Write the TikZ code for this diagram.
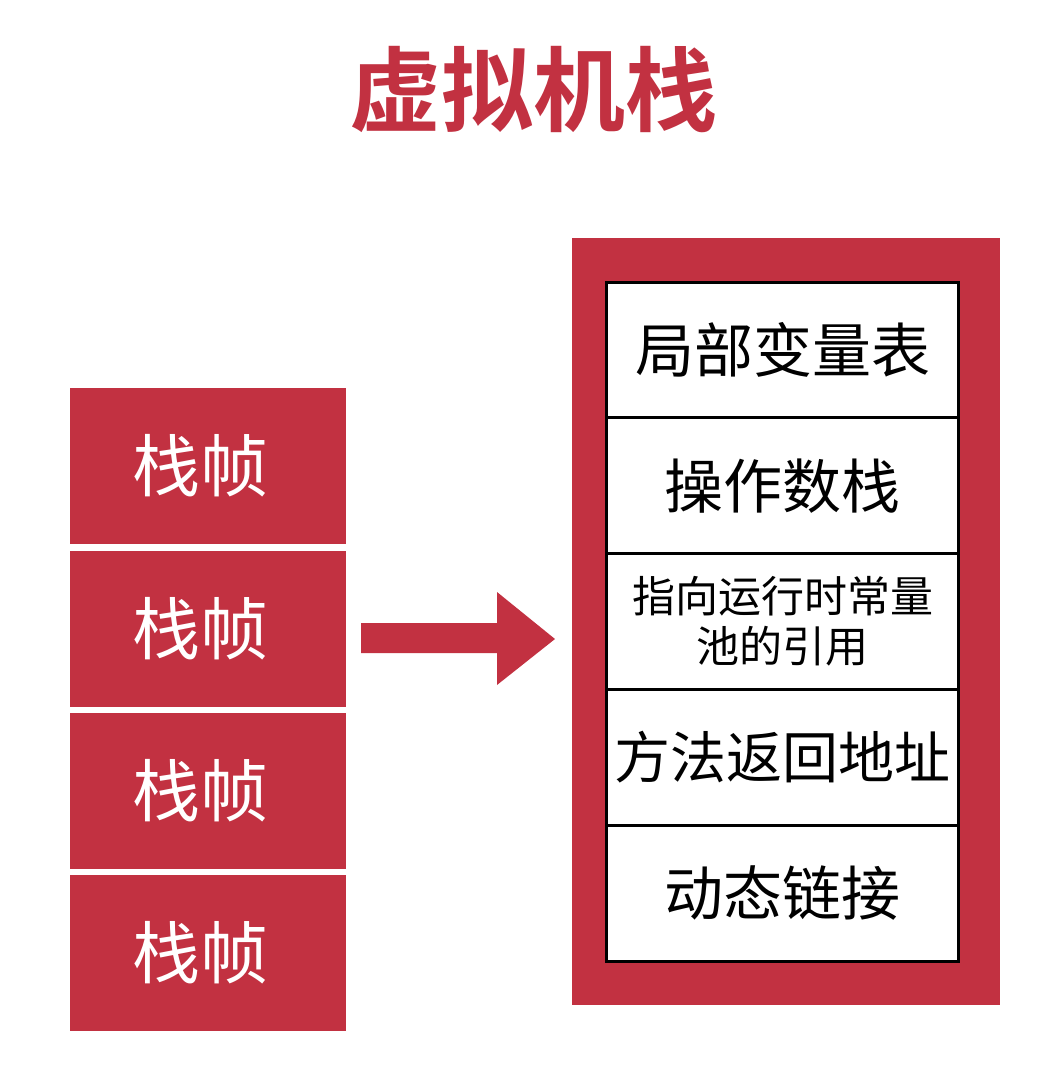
\documentclass[tikz,border=0pt]{standalone}
\usepackage{fontspec}
\newfontfamily\cjk{Noto Sans CJK SC}[BoldFont={Noto Sans CJK SC Bold}]
\definecolor{jred}{RGB}{194,49,65}
\begin{document}
\begin{tikzpicture}[x=1pt,y=-1pt,
  frame/.style={fill=jred,draw=none,minimum width=276pt,minimum height=156pt,inner sep=0pt,
    text=white,font=\cjk\fontsize{68}{68}\selectfont},
  part/.style={fill=white,draw=black,line width=3pt,minimum width=352pt,minimum height=135.8pt,inner sep=0pt,
    font=\cjk\fontsize{59}{59}\selectfont,align=center},
  small/.style={font=\cjk\fontsize{43}{50}\selectfont}]
\useasboundingbox (0,0) rectangle (1061,1069);
\node[text=jred,font=\cjk\bfseries\fontsize{92}{92}\selectfont] (title) at (533,90) {虚拟机栈};
% left frames
\node[frame] (f1) at (207.5,466) {};
\node[frame] (f2) at (207.5,629) {};
\node[frame] (f3) at (207.5,791) {};
\node[frame] (f4) at (207.5,953) {};
\foreach \f in {f1,f2,f3,f4}
  \node[text=white,font=\cjk\fontsize{68}{68}\selectfont] (\f-t) at ([xshift=-7pt]\f.center) {栈帧};
% arrow
\fill[jred] (361,623) -- (497,623) -- (497,592) -- (555,639) -- (497,685) -- (497,653) -- (361,653) -- cycle;
% right container
\node[fill=jred,minimum width=428pt,minimum height=767pt,inner sep=0pt] (stack) at (786,621.5) {};
\node[part] (p1) at (782.5,350) {局部变量表};
\node[part] (p2) at (782.5,485.8) {操作数栈};
\node[part,small] (p3) at (782.5,621.6) {指向运行时常量\\池的引用};
\node[part,font=\cjk\fontsize{56}{56}\selectfont] (p4) at (782.5,757.4) {方法返回地址};
\node[part] (p5) at (782.5,893.2) {动态链接};
\end{tikzpicture}
\end{document}
